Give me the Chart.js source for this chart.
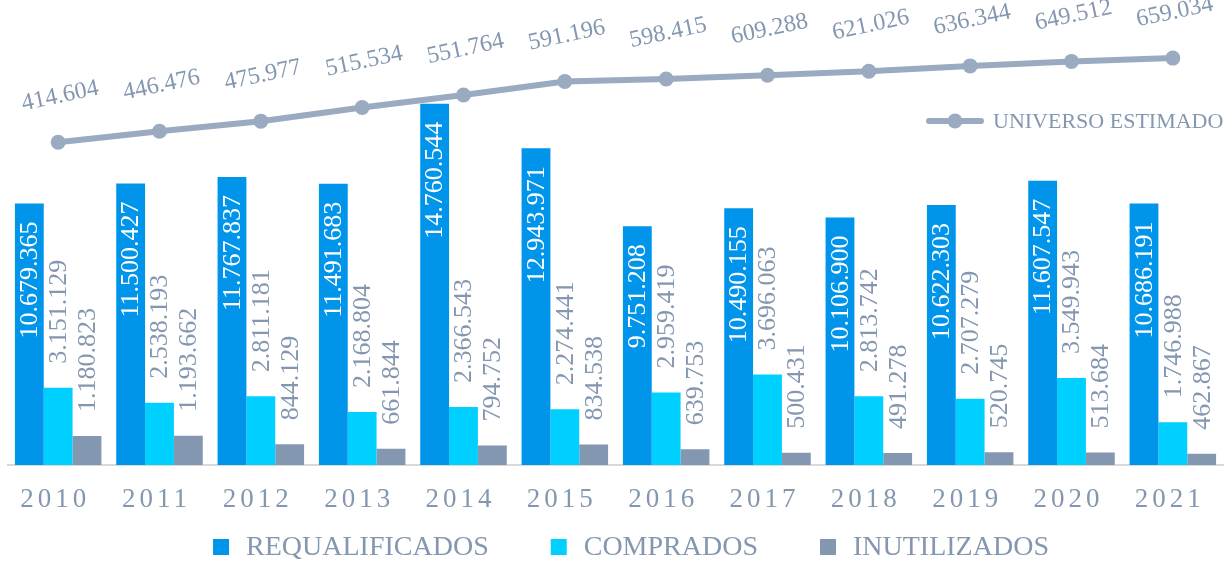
<!DOCTYPE html>
<html><head><meta charset="utf-8">
<script src="https://cdn.jsdelivr.net/npm/chart.js@4.4.0/dist/chart.umd.min.js"></script>
<style>html,body{margin:0;padding:0;background:#fff}#wrap{width:1231px;height:565px}</style>
</head><body><div id="wrap"><canvas id="c" width="1231" height="565"></canvas></div>
<script>
const years = ['2010','2011','2012','2013','2014','2015','2016','2017','2018','2019','2020','2021'];
const requalificados = [10679365, 11500427, 11767837, 11491683, 14760544, 12943971, 9751208, 10490155, 10106900, 10622303, 11607547, 10686191];
const comprados = [3151129, 2538193, 2811181, 2168804, 2366543, 2274441, 2959419, 3696063, 2813742, 2707279, 3549943, 1746988];
const inutilizados = [1180823, 1193662, 844129, 661844, 794752, 834538, 639753, 500431, 491278, 520745, 513684, 462867];
const universo = [414604, 446476, 475977, 515534, 551764, 591196, 598415, 609288, 621026, 636344, 649512, 659034];
const seriesNames = ['REQUALIFICADOS', 'COMPRADOS', 'INUTILIZADOS', 'UNIVERSO ESTIMADO'];

const C_REQ = '#0095EA', C_COMP = '#00D0FF', C_INUT = '#8497B0', C_LINE = '#9AAAC1', C_TEXT = '#8497B0';
const FONT = '"Liberation Serif", "Times New Roman", serif';
const fmt = v => String(v).replace(/\B(?=(\d{3})+(?!\d))/g, '.');

const labelPlugin = {
  id: 'labels',
  beforeDraw(chart) { chart.ctx.letterSpacing = '4px'; },
  beforeDatasetsDraw(chart) { chart.ctx.letterSpacing = '0px'; },
  afterDatasetsDraw(chart) {
    const ctx = chart.ctx;
    // bar labels
    for (let d = 0; d < 3; d++) {
      const meta = chart.getDatasetMeta(d);
      const data = chart.data.datasets[d].data;
      meta.data.forEach((bar, i) => {
        ctx.save();
        ctx.letterSpacing = '0px';
        ctx.font = '26px ' + FONT;
        ctx.textBaseline = 'middle';
        if (d === 0) {
          ctx.translate(bar.x + 1, bar.y + 18);
          ctx.rotate(-Math.PI / 2);
          ctx.textAlign = 'right';
          ctx.fillStyle = '#FFFFFF';
        } else {
          ctx.translate(bar.x + 1, bar.y - 24);
          ctx.rotate(-Math.PI / 2);
          ctx.textAlign = 'left';
          ctx.fillStyle = C_TEXT;
        }
        ctx.fillText(fmt(data[i]), 0, 0);
        ctx.restore();
      });
    }
    // line labels
    const lm = chart.getDatasetMeta(3);
    lm.data.forEach((pt, i) => {
      ctx.save();
      ctx.letterSpacing = '0px';
      ctx.font = '24px ' + FONT;
      ctx.textBaseline = 'middle';
      ctx.textAlign = 'center';
      ctx.fillStyle = C_TEXT;
      ctx.translate(pt.x + 2, pt.y - 46);
      ctx.rotate(-12 * Math.PI / 180);
      ctx.fillText(fmt(universo[i]), 0, 0);
      ctx.restore();
    });
  },
  afterDraw(chart) {
    const ctx = chart.ctx;
    ctx.save();
    ctx.letterSpacing = '0px';
    // line legend (top right)
    ctx.strokeStyle = C_LINE; ctx.lineWidth = 6; ctx.lineCap = 'round';
    ctx.beginPath(); ctx.moveTo(929, 121); ctx.lineTo(981, 121); ctx.stroke();
    ctx.fillStyle = C_LINE;
    ctx.beginPath(); ctx.arc(955, 121, 7.5, 0, Math.PI * 2); ctx.fill();
    ctx.font = '22px ' + FONT; ctx.fillStyle = C_TEXT; ctx.textBaseline = 'middle'; ctx.textAlign = 'left';
    ctx.fillText(seriesNames[3], 993, 122);
    // bottom legend
    ctx.font = '28px ' + FONT;
    const cols = [C_REQ, C_COMP, C_INUT];
    const box = 16, gapText = 17, gapItem = 62;
    const widths = [0,1,2].map(i => ctx.measureText(seriesNames[i]).width);
    let total = widths.reduce((a, w) => a + box + gapText + w, 0) + gapItem * 2;
    let x = 631 - total / 2;
    const cy = 547;
    for (let i = 0; i < 3; i++) {
      ctx.fillStyle = cols[i];
      ctx.fillRect(x, cy - box / 2, box, box);
      ctx.fillStyle = C_TEXT;
      ctx.fillText(seriesNames[i], x + box + gapText, cy + 1);
      x += box + gapText + widths[i] + gapItem;
    }
    ctx.restore();
  }
};

new Chart(document.getElementById('c'), {
  data: {
    labels: years,
    datasets: [
      { type: 'bar', label: seriesNames[0], data: requalificados, backgroundColor: C_REQ, yAxisID: 'y', order: 1 },
      { type: 'bar', label: seriesNames[1], data: comprados, backgroundColor: C_COMP, yAxisID: 'y', order: 1 },
      { type: 'bar', label: seriesNames[2], data: inutilizados, backgroundColor: C_INUT, yAxisID: 'y', order: 1 },
      { type: 'line', label: seriesNames[3], data: universo, borderColor: C_LINE, backgroundColor: C_LINE,
        borderWidth: 6, pointRadius: 7.5, pointBorderWidth: 0, pointBackgroundColor: C_LINE, tension: 0,
        yAxisID: 'y2', order: 0 }
    ]
  },
  options: {
    responsive: false,
    devicePixelRatio: 1,
    animation: false,
    datasets: { bar: { categoryPercentage: 0.854, barPercentage: 1.0 } },
    layout: { padding: { left: 6.5, right: 1.6, top: 8, bottom: 37.6 } },
    plugins: { legend: { display: false }, tooltip: { enabled: false } },
    scales: {
      x: {
        type: 'category', offset: true,
        grid: { display: false },
        border: { display: true, color: '#D9D9D9', width: 2 },
        ticks: { color: C_TEXT, font: { family: FONT, size: 27 }, padding: 11, labelOffset: -3, maxRotation: 0, autoSkip: false }
      },
      y: { display: false, min: 0, max: 18670000 },
      y2: { display: false, min: -522400, max: 804500 }
    }
  },
  plugins: [labelPlugin]
});
</script></body></html>
